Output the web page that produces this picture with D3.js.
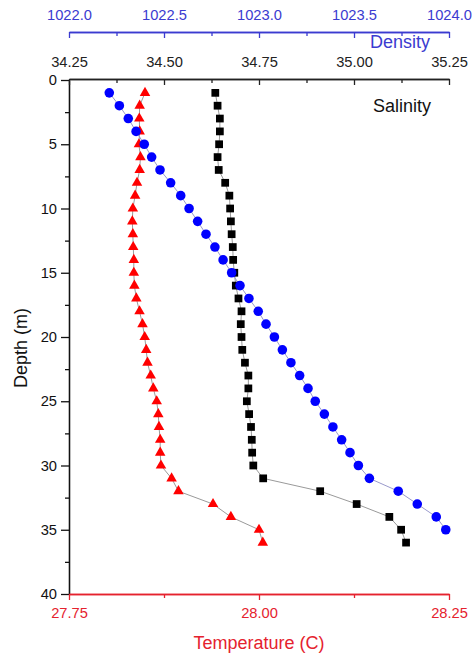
<!DOCTYPE html>
<html>
<head>
<meta charset="utf-8">
<script src="https://cdn.jsdelivr.net/npm/d3@7"></script>
<style>
  html, body { margin: 0; padding: 0; background: #fff; }
  svg { display: block; font-family: Arial, "Liberation Sans", sans-serif; }
</style>
</head>
<body>
<svg id="chart" width="473" height="657"></svg>
<script>
// ---- Data ----
const depthTicks = [0, 5, 10, 15, 20, 25, 30, 35, 40];
const salinityTicks = [34.25, 34.5, 34.75, 35.0, 35.25];
const densityTicks = [1022.0, 1022.5, 1023.0, 1023.5, 1024.0];
const temperatureTicks = [27.75, 28.0, 28.25];

const depths = [1,2,3,4,5,6,7,8,9,10,11,12,13,14,15,16,17,18,19,20,21,22,23,24,25,26,27,28,29,30,31,32,33,34,35,36];

const salinity = [34.635,34.641,34.647,34.647,34.645,34.641,34.644,34.661,34.672,34.674,
  34.676,34.678,34.681,34.682,34.685,34.689,34.696,34.704,34.702,34.704,
  34.706,34.713,34.722,34.722,34.718,34.724,34.729,34.731,34.732,34.735,
  34.761,34.911,35.007,35.093,35.124,35.137];

const temperature = [27.850,27.843,27.8425,27.843,27.842,27.844,27.843,27.8395,27.837,27.834,
  27.8333,27.834,27.8345,27.8353,27.8353,27.836,27.8386,27.8428,27.8467,27.8496,
  27.8516,27.8533,27.8575,27.8609,27.8654,27.8675,27.8684,27.870,27.870,27.871,
  27.885,27.894,27.9395,27.963,28.000,28.005];

const density = [1022.212,1022.265,1022.312,1022.353,1022.396,1022.435,1022.479,1022.535,1022.588,1022.632,
  1022.677,1022.721,1022.768,1022.811,1022.856,1022.900,1022.947,1022.996,1023.037,1023.081,
  1023.123,1023.168,1023.214,1023.258,1023.296,1023.344,1023.389,1023.435,1023.479,1023.523,
  1023.581,1023.733,1023.833,1023.933,1023.983];

// ---- Layout ----
const svg = d3.select("#chart");
const L = 69, R = 449, T = 80, B = 594;
const densityAxisY = 32;
const tickFont = "14.7px";
const titleFont = "18px";
const blueAxis = "#3b3bd0";
const redAxis = "#e5222e";

const y = d3.scaleLinear().domain([0, 40]).range([T, B]);
const xS = d3.scaleLinear().domain([34.25, 35.25]).range([L, R]);
const xD = d3.scaleLinear().domain([1022, 1024]).range([L, R]);
const xT = d3.scaleLinear().domain([27.75, 28.25]).range([L, R]);

function midpoints(arr) {
  const out = [];
  for (let i = 0; i < arr.length - 1; i++) out.push((arr[i] + arr[i + 1]) / 2);
  return out;
}

function styleAxis(g, color) {
  g.selectAll("path.domain").attr("stroke", color).attr("stroke-width", 1.3);
  g.selectAll(".tick line").attr("stroke", color).attr("stroke-width", 1.3);
  g.selectAll(".tick text").attr("fill", color).style("font-size", tickFont)
    .style("font-family", "Arial, 'Liberation Sans', sans-serif");
}

// Left depth axis
const gLeftMinor = svg.append("g").attr("transform", `translate(${L},0)`)
  .call(d3.axisLeft(y).tickValues(midpoints(depthTicks)).tickSize(4).tickFormat("").tickSizeOuter(0));
styleAxis(gLeftMinor, "#111");
const gLeft = svg.append("g").attr("transform", `translate(${L},0)`)
  .call(d3.axisLeft(y).tickValues(depthTicks).tickSize(8).tickPadding(4).tickSizeOuter(0).tickFormat(d3.format("d")));
styleAxis(gLeft, "#111");

// Top salinity axis (ticks inward)
const gSalMinor = svg.append("g").attr("transform", `translate(0,${T - 1})`)
  .call(d3.axisTop(xS).tickValues(midpoints(salinityTicks)).tickSize(-4).tickFormat("").tickSizeOuter(0));
styleAxis(gSalMinor, "#222");
const gSal = svg.append("g").attr("transform", `translate(0,${T - 1})`)
  .call(d3.axisTop(xS).tickValues(salinityTicks).tickSize(-6).tickPadding(12).tickSizeOuter(0).tickFormat(d3.format(".2f")));
styleAxis(gSal, "#222");

// Density axis (upper)
const gDenMinor = svg.append("g").attr("transform", `translate(0,${densityAxisY})`)
  .call(d3.axisTop(xD).tickValues(midpoints(densityTicks)).tickSize(-4).tickFormat("").tickSizeOuter(0));
styleAxis(gDenMinor, blueAxis);
const gDen = svg.append("g").attr("transform", `translate(0,${densityAxisY})`)
  .call(d3.axisTop(xD).tickValues(densityTicks).tickSize(-6).tickPadding(12).tickSizeOuter(0).tickFormat(d3.format(".1f")));
styleAxis(gDen, blueAxis);

// Bottom temperature axis
const gTempMinor = svg.append("g").attr("transform", `translate(0,${B})`)
  .call(d3.axisBottom(xT).tickValues(midpoints(temperatureTicks)).tickSize(4).tickFormat("").tickSizeOuter(0));
styleAxis(gTempMinor, redAxis);
const gTemp = svg.append("g").attr("transform", `translate(0,${B})`)
  .call(d3.axisBottom(xT).tickValues(temperatureTicks).tickSize(6).tickPadding(8).tickSizeOuter(0).tickFormat(d3.format(".2f")));
styleAxis(gTemp, redAxis);

// Axis titles
svg.append("text").attr("transform", "translate(27,348) rotate(-90)")
  .attr("text-anchor", "middle").style("font-size", titleFont).attr("fill", "#111")
  .text("Depth (m)");
svg.append("text").attr("x", 259).attr("y", 649)
  .attr("text-anchor", "middle").style("font-size", titleFont).attr("fill", redAxis)
  .text("Temperature (C)");
svg.append("text").attr("x", 370).attr("y", 48)
  .attr("text-anchor", "start").style("font-size", titleFont).attr("fill", blueAxis)
  .text("Density");
svg.append("text").attr("x", 373).attr("y", 112)
  .attr("text-anchor", "start").style("font-size", titleFont).attr("fill", "#111")
  .text("Salinity");

// ---- Series ----
const salData = depths.map((d, i) => ({ d, v: salinity[i] }));
const tempData = depths.map((d, i) => ({ d, v: temperature[i] }));
const denData = density.map((v, i) => ({ d: depths[i], v }));

function drawLine(data, xs, color) {
  svg.append("path").datum(data)
    .attr("fill", "none").attr("stroke", color).attr("stroke-width", 1)
    .attr("d", d3.line().x(p => xs(p.v)).y(p => y(p.d)));
}
drawLine(salData, xS, "#9a9a9a");
drawLine(tempData, xT, "#9a9a9a");
drawLine(denData, xD, "#9a9acc");

svg.append("g").selectAll("path").data(salData).join("path")
  .attr("transform", p => `translate(${xS(p.v)},${y(p.d)})`)
  .attr("d", d3.symbol(d3.symbolSquare, 60)).attr("fill", "#000");

svg.append("g").selectAll("path").data(tempData).join("path")
  .attr("transform", p => `translate(${xT(p.v)},${y(p.d)})`)
  .attr("d", d3.symbol(d3.symbolTriangle, 48)).attr("fill", "#ff0000");

svg.append("g").selectAll("path").data(denData).join("path")
  .attr("transform", p => `translate(${xD(p.v)},${y(p.d)})`)
  .attr("d", d3.symbol(d3.symbolCircle, 72)).attr("fill", "#0000ff");
</script>
</body>
</html>
